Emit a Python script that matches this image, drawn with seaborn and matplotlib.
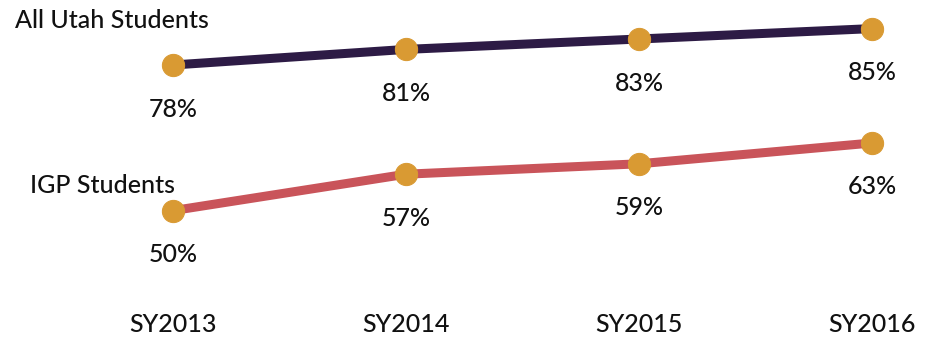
import matplotlib
matplotlib.use("Agg")
import matplotlib.pyplot as plt
import seaborn as sns
import pandas as pd

years = ["SY2013", "SY2014", "SY2015", "SY2016"]
all_utah = [78, 81, 83, 85]
igp = [50, 57, 59, 63]
series_names = ["All Utah Students", "IGP Students"]

sns.set_theme(style="white")
plt.rcParams["font.family"] = ["Lato", "DejaVu Sans"]

df = pd.DataFrame({
    "x": list(range(len(years))) * 2,
    "value": all_utah + igp,
    "series": [series_names[0]] * len(years) + [series_names[1]] * len(years),
})

fig = plt.figure(figsize=(9.26, 3.39), dpi=100)
ax = fig.add_axes([0, 0, 1, 1])

colors = {series_names[0]: "#2d1b45", series_names[1]: "#c9545a"}
for name in series_names:
    sub = df[df["series"] == name]
    sns.lineplot(data=sub, x="x", y="value", ax=ax, color=colors[name],
                 linewidth=6.5, marker="o", markersize=16,
                 markerfacecolor="#d99a33", markeredgecolor="#d99a33",
                 legend=False, solid_capstyle="butt")

px_per_unit_x = 233.0
px_per_pt = 5.2
ax.set_xlim(-173 / px_per_unit_x, 3 + 54 / px_per_unit_x)
ax.set_ylim(78 - (339 - 65) / px_per_pt, 78 + 65 / px_per_pt)
ax.axis("off")

txt = dict(fontsize=18, color="#111111", fontweight="medium")
off = 44 / px_per_pt
for name in series_names:
    sub = df[df["series"] == name]
    for xv, v in zip(sub["x"], sub["value"]):
        ax.text(xv, v - off, f"{v}%", ha="center", va="center", **txt)

ybot = 78 - (325 - 65) / px_per_pt
for i, yr in enumerate(years):
    ax.text(i, ybot, yr, ha="center", va="center", **txt)

ax.text(15 / px_per_unit_x - 173 / px_per_unit_x, 78 + (65 - 20) / px_per_pt,
        series_names[0], ha="left", va="center", **txt)
ax.text(30 / px_per_unit_x - 173 / px_per_unit_x, 78 - (185 - 65) / px_per_pt,
        series_names[1], ha="left", va="center", **txt)

fig.savefig("out.png", dpi=100, facecolor="white")
